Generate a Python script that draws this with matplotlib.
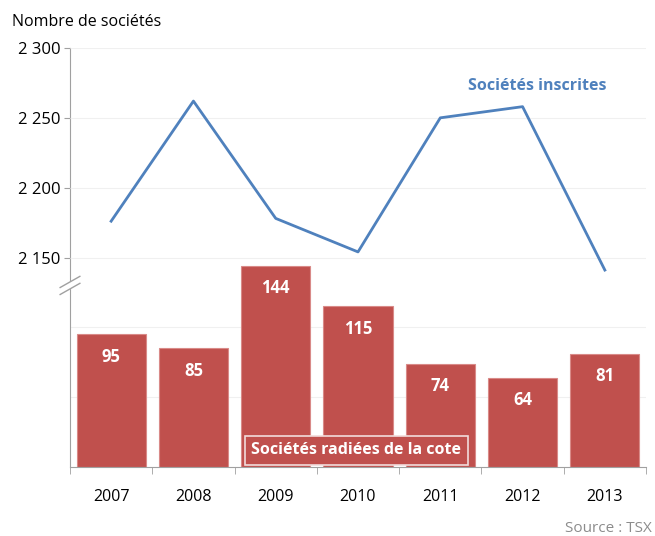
import matplotlib.pyplot as plt

plt.rcParams['font.family'] = ['Open Sans', 'DejaVu Sans']

annees = ['2007', '2008', '2009', '2010', '2011', '2012', '2013']
inscrites = [2176, 2262, 2178, 2154, 2250, 2258, 2141]
radiees = [95, 85, 144, 115, 74, 64, 81]

rouge = '#C0504D'
bleu = '#4F81BD'

fig = plt.figure(figsize=(6.55, 5.36), dpi=100)
ax = fig.add_axes([70 / 655, 1 - 467 / 536, 576 / 655, 419 / 536])
x = range(len(annees))

# bars on the bottom part (0 at the axis, same scale as the line)
ax.set_ylim(0, 300)
ax.set_xlim(-0.5, len(annees) - 0.5)
bars = ax.bar(x, radiees, width=0.84, color=rouge, edgecolor='#D98A88', linewidth=0.8, zorder=2)
for xi, v in zip(x, radiees):
    ax.text(xi, v - 16, str(v), ha='center', va='center', color='white',
            fontsize=12, fontweight='bold', zorder=3)

# line on a second scale, offset by 2000
ax2 = ax.twinx()
ax2.set_ylim(2000, 2300)
ax2.plot(x, inscrites, color=bleu, linewidth=2, zorder=4)
ax2.yaxis.tick_left()
ax2.set_yticks([2150, 2200, 2250, 2300])
ax2.set_yticklabels([f'{v // 1000} {v % 1000:03d}' for v in [2150, 2200, 2250, 2300]], fontsize=12)
ax2.tick_params(axis='y', length=4, color='#A0A0A0', pad=3)
for s in ax2.spines.values():
    s.set_visible(False)
for v in [2150, 2200, 2250, 2300]:
    ax2.axhline(v, color='#F0F0F0', linewidth=0.8, zorder=0)
for v in [50, 100]:
    ax.axhline(v, color='#F0F0F0', linewidth=0.8, zorder=0)

ax.set_yticks([])
for s in ['top', 'right']:
    ax.spines[s].set_visible(False)
ax.spines['left'].set_color('#A0A0A0')
ax.spines['bottom'].set_color('#A0A0A0')
ax.set_xticks(x)
ax.set_xticklabels(annees, fontsize=11.5)
ax.set_xticks([i - 0.5 for i in range(len(annees) + 1)], minor=True)
ax.tick_params(axis='x', which='major', length=0, pad=16)
ax.tick_params(axis='x', which='minor', length=5, color='#A0A0A0')

# axis break mark
ax.plot([-0.62, -0.38], [126, 134], color='white', linewidth=5, clip_on=False, zorder=5)
ax.plot([-0.62, -0.38], [123.5, 131.5], color='#A0A0A0', linewidth=1, clip_on=False, zorder=6)
ax.plot([-0.62, -0.38], [128.5, 136.5], color='#A0A0A0', linewidth=1, clip_on=False, zorder=6)

ax2.text(5.18, 2273, 'Sociétés inscrites', color=bleu, fontsize=11.5, fontweight='bold',
         ha='center', va='center')
ax.text(2.98, 12, 'Sociétés radiées de la cote', color='white', fontsize=11.5, fontweight='bold',
        ha='center', va='center', zorder=5,
        bbox=dict(facecolor=rouge, edgecolor='#F2DCDB', linewidth=1.2, boxstyle='square,pad=0.4'))

fig.text(12 / 655, 1 - 22 / 536, 'Nombre de sociétés', fontsize=11.5, va='center', ha='left')
fig.text(652 / 655, 1 - 528 / 536, 'Source : TSX', fontsize=11, color='#8C8C8C', va='center', ha='right')

fig.savefig('out.png', dpi=100)
